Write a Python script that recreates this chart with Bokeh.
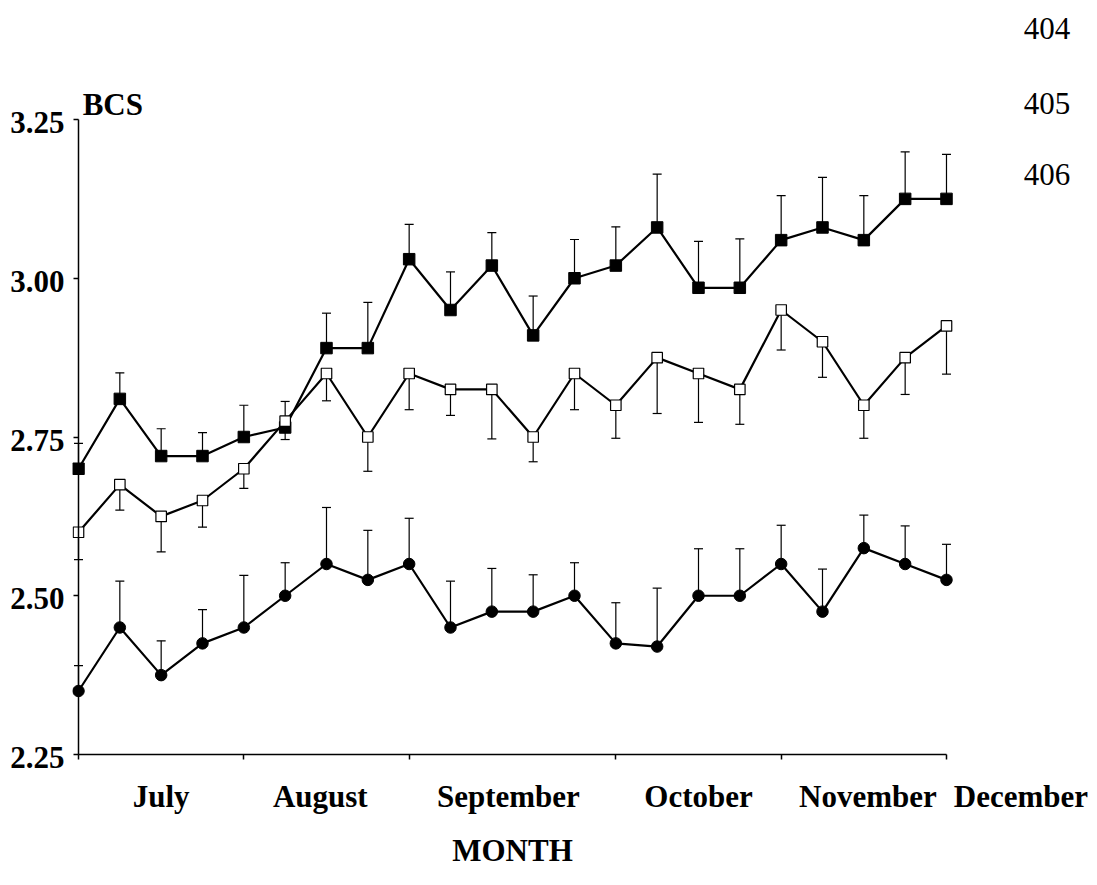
from bokeh.plotting import figure
from bokeh.models import (Range1d, FixedTicker, Whisker, TeeHead, ColumnDataSource,
                          Label, LinearAxis)
from bokeh.embed import file_html
from bokeh.resources import INLINE

# ---- data ----
idx = list(range(22))
month_labels = ["July", "August", "September", "October", "November", "December"]
month_tick_idx = [0, 4, 8, 13, 17, 21]
y_ticks = [2.25, 2.50, 2.75, 3.00, 3.25]
y_tick_labels = ["2.25", "2.50", "2.75", "3.00", "3.25"]
line_numbers = ["404", "405", "406"]

sq_filled = [2.70, 2.81, 2.72, 2.72, 2.75, 2.765, 2.89, 2.89, 3.03, 2.95, 3.02,
             2.91, 3.00, 3.02, 3.08, 2.985, 2.985, 3.06, 3.08, 3.06, 3.125, 3.125]
sq_filled_se = [0.040, 0.041, 0.043, 0.037, 0.050, 0.041, 0.055, 0.072, 0.055, 0.060, 0.052,
                0.062, 0.061, 0.061, 0.084, 0.073, 0.077, 0.070, 0.079, 0.070, 0.074, 0.070]

sq_open = [2.60, 2.675, 2.625, 2.65, 2.70, 2.775, 2.85, 2.75, 2.85, 2.825, 2.825,
           2.75, 2.85, 2.80, 2.875, 2.85, 2.825, 2.95, 2.90, 2.80, 2.875, 2.925]
sq_open_se = [0.043, 0.040, 0.056, 0.042, 0.031, 0.029, 0.043, 0.054, 0.057, 0.041, 0.078,
              0.039, 0.057, 0.052, 0.088, 0.077, 0.055, 0.063, 0.056, 0.052, 0.058, 0.076]

circ = [2.35, 2.45, 2.375, 2.425, 2.45, 2.50, 2.55, 2.525, 2.55, 2.45, 2.475,
        2.475, 2.50, 2.425, 2.42, 2.50, 2.50, 2.55, 2.475, 2.575, 2.55, 2.525]
circ_se = [0.040, 0.073, 0.054, 0.053, 0.082, 0.052, 0.089, 0.078, 0.072, 0.073, 0.068,
           0.058, 0.052, 0.064, 0.092, 0.074, 0.074, 0.061, 0.067, 0.052, 0.060, 0.056]

# ---- layout constants ----
FONT = "Liberation Serif"
FS = "31px"
month_label_pos = [2, 5.85, 10.4, 15, 19.1, 22.8]
PX_X = 41.333          # pixels per x unit
PX_Y = 635.0           # pixels per y unit
X0_PIX, Y325_PIX = 78, 119
FRAME_L, FRAME_W, FRAME_H = 72, 1020, 878
YLAB_SHIFT = 3 / PX_Y   # tick labels sit slightly below their ticks

def ypix(py):           # page pixel row -> data y (layout helper for text)
    return 3.25 - (py - Y325_PIX) / PX_Y

x_start = (FRAME_L - X0_PIX) / PX_X
x_end = x_start + FRAME_W / PX_X
y_end = 3.25 + Y325_PIX / PX_Y
y_start = y_end - FRAME_H / PX_Y

p = figure(frame_width=FRAME_W, frame_height=FRAME_H,
           x_range=Range1d(x_start, x_end), y_range=Range1d(y_start, y_end),
           output_backend="svg", toolbar_location=None,
           min_border_left=FRAME_L, min_border_right=5,
           min_border_top=0, min_border_bottom=0)
p.grid.visible = False
p.outline_line_color = None
p.background_fill_color = "white"
p.border_fill_color = "white"

# y axis: line + ticks at x = 0
ya = p.yaxis[0]
ya.fixed_location = 0
ya.bounds = (2.25, 3.25)
ya.ticker = FixedTicker(ticks=y_ticks)
ya.major_label_overrides = {v: "" for v in y_ticks}
ya.major_label_text_font_size = "0px"
ya.major_label_standoff = 0
ya.minor_tick_line_color = None
ya.major_tick_in = 0
ya.major_tick_out = 5
ya.axis_line_width = 1.5
ya.major_tick_line_width = 1.5
ya.axis_line_color = "black"
ya.major_tick_line_color = "black"

# y axis tick labels
ylab_pos = [v - YLAB_SHIFT for v in y_ticks]
ya2 = LinearAxis(ticker=FixedTicker(ticks=ylab_pos),
                 major_label_overrides={v: s for v, s in zip(ylab_pos, y_tick_labels)},
                 axis_line_color=None, major_tick_line_color=None, minor_tick_line_color=None,
                 major_label_text_font=FONT, major_label_text_font_style="bold",
                 major_label_text_font_size=FS, major_label_text_color="black",
                 major_label_standoff=2)
p.add_layout(ya2, "left")

# x axis: line + ticks at y = 2.25 (ticks pointing down)
xa = p.xaxis[0]
xa.fixed_location = 2.25
xa.bounds = (0, 21)
xa.ticker = FixedTicker(ticks=month_tick_idx)
xa.major_label_overrides = {v: "" for v in month_tick_idx}
xa.major_label_text_font_size = "0px"
xa.major_label_standoff = 0
xa.minor_tick_line_color = None
xa.major_tick_in = 0
xa.major_tick_out = 5
xa.axis_line_width = 1.5
xa.major_tick_line_width = 1.5
xa.axis_line_color = "black"
xa.major_tick_line_color = "black"

# error bars
def whisker(vals, se, up):
    if up:
        src = ColumnDataSource(dict(x=idx, lower=vals, upper=[v + e for v, e in zip(vals, se)]))
        w = Whisker(base="x", lower="lower", upper="upper", source=src,
                    line_color="black", line_width=1.2,
                    upper_head=TeeHead(size=9, line_color="black", line_width=1.2),
                    lower_head=None)
    else:
        src = ColumnDataSource(dict(x=idx, lower=[v - e for v, e in zip(vals, se)], upper=vals))
        w = Whisker(base="x", lower="lower", upper="upper", source=src,
                    line_color="black", line_width=1.2,
                    lower_head=TeeHead(size=9, line_color="black", line_width=1.2),
                    upper_head=None)
    p.add_layout(w)

whisker(sq_filled, sq_filled_se, True)
whisker(sq_open, sq_open_se, False)
whisker(circ, circ_se, True)

# lines
for vals in (sq_filled, sq_open, circ):
    p.line(idx, vals, line_color="black", line_width=2.2)

# markers
p.scatter(idx, sq_filled, marker="square", size=11.5, fill_color="black", line_color="black")
p.scatter(idx, sq_open, marker="square", size=10.5, fill_color="white", line_color="black", line_width=1.2)
p.scatter(idx, circ, marker="circle", size=11.5, fill_color="black", line_color="black")

# month labels and axis title
def lab(x, y, text, align="center", bold=True):
    p.add_layout(Label(x=x, y=y, text=text, text_align=align, text_baseline="alphabetic",
                       text_font=FONT, text_font_style="bold" if bold else "normal",
                       text_font_size=FS, text_color="black"))

for pos, m in zip(month_label_pos, month_labels):
    lab(pos, ypix(796), m)
lab(10.5, ypix(850), "MONTH")
lab(0.1, ypix(104), "BCS", align="left")
for py, t in zip([28, 103, 174], line_numbers):
    lab(22.87, ypix(py), t, align="left", bold=False)

open("out.html", "w").write(file_html(p, INLINE))
